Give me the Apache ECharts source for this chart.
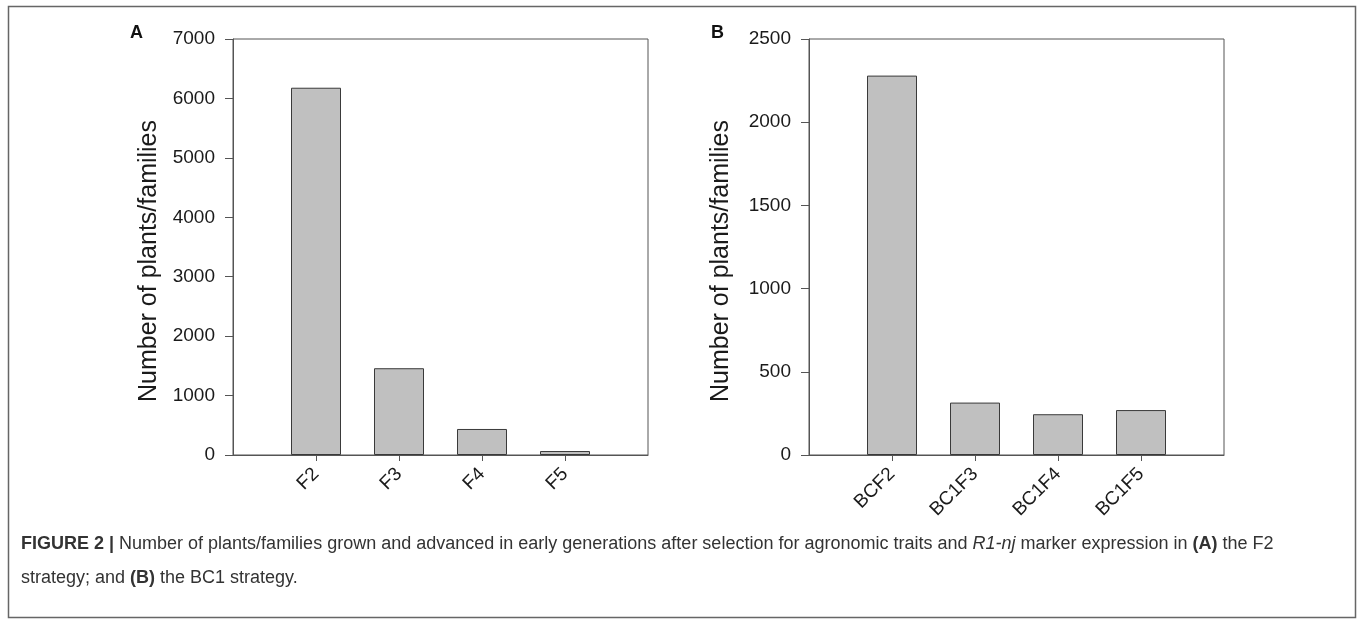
<!DOCTYPE html>
<html>
<head>
<meta charset="utf-8">
<script src="https://cdn.jsdelivr.net/npm/echarts@6.0.0/dist/echarts.min.js"></script>
<style>
  html, body { margin: 0; padding: 0; background: #fff; }
  #main { width: 1357px; height: 619px; }
</style>
</head>
<body>
<div id="main"></div>
<script>
var chart = echarts.init(document.getElementById('main'));

// panel A: F2 strategy
var catsA = ['F2', 'F3', 'F4', 'F5'];
var valsA = [6180, 1460, 438, 67];
var ticksA = [0, 1000, 2000, 3000, 4000, 5000, 6000, 7000];

// panel B: BC1 strategy
var catsB = ['BCF2', 'BC1F3', 'BC1F4', 'BC1F5'];
var valsB = [2280, 315, 245, 270];
var ticksB = [0, 500, 1000, 1500, 2000, 2500];

var yName = 'Number of plants/families';
var font = 'Liberation Sans, Arial, sans-serif';
var lineCol = '#555';
var txtCol = '#1a1a1a';

var toPairs = function (vals) {
    var res = [];
    for (var i = 0; i < vals.length; i++) {
        res.push([i, vals[i]]);
    }
    return res;
};

var xAxisFor = function (idx, cats) {
    return {
        type: 'value',
        gridIndex: idx,
        min: -1,
        max: 4,
        interval: 1,
        splitLine: { show: false },
        axisLine: { show: true, onZero: false, lineStyle: { color: lineCol, width: 1 } },
        axisTick: { show: true, length: 6, customValues: [0, 1, 2, 3], lineStyle: { color: lineCol } },
        axisLabel: {
            customValues: [0, 1, 2, 3],
            rotate: 45,
            margin: 16,
            fontSize: 19,
            fontFamily: font,
            color: txtCol,
            formatter: function (v) { return cats[v] || ''; }
        }
    };
};

var yAxisFor = function (idx, ticks, gap) {
    return {
        type: 'value',
        gridIndex: idx,
        min: ticks[0],
        max: ticks[ticks.length - 1],
        interval: ticks[1] - ticks[0],
        name: yName,
        nameLocation: 'middle',
        nameGap: gap,
        nameTextStyle: { fontSize: 25, fontFamily: font, color: txtCol, padding: [0, 28, 0, 0] },
        splitLine: { show: false },
        axisLine: { show: true, onZero: false, lineStyle: { color: lineCol, width: 1 } },
        axisTick: { show: true, length: 8, lineStyle: { color: lineCol } },
        axisLabel: {
            fontSize: 19,
            fontFamily: font,
            color: txtCol,
            margin: 18,
            formatter: function (v) { return String(v); }
        }
    };
};

var barStyle = {
    color: '#c0c0c0',
    borderColor: '#3a3a3a',
    borderWidth: 1
};

option = {
    animation: false,
    backgroundColor: '#fff',
    grid: [
        { left: 233, top: 39, width: 415, height: 416, show: true, borderColor: lineCol, borderWidth: 1, backgroundColor: 'transparent' },
        { left: 809, top: 39, width: 415, height: 416, show: true, borderColor: lineCol, borderWidth: 1, backgroundColor: 'transparent' }
    ],
    xAxis: [xAxisFor(0, catsA), xAxisFor(1, catsB)],
    yAxis: [yAxisFor(0, ticksA, 71), yAxisFor(1, ticksB, 75)],
    series: [
        {
            type: 'bar',
            xAxisIndex: 0,
            yAxisIndex: 0,
            barWidth: 50,
            data: toPairs(valsA),
            itemStyle: barStyle
        },
        {
            type: 'bar',
            xAxisIndex: 1,
            yAxisIndex: 1,
            barWidth: 50,
            data: toPairs(valsB),
            itemStyle: barStyle
        }
    ],
    graphic: [
        {
            type: 'rect',
            shape: { x: 8.5, y: 6.5, width: 1347, height: 611 },
            style: { fill: 'none', stroke: '#666', lineWidth: 1.5 },
            silent: true
        },
        {
            type: 'text', left: 130, top: 24,
            style: { text: 'A', font: 'bold 18px ' + font, fill: '#111' }
        },
        {
            type: 'text', left: 711, top: 24,
            style: { text: 'B', font: 'bold 18px ' + font, fill: '#111' }
        },
        {
            type: 'text', left: 21, top: 535,
            style: {
                text: '{b|FIGURE 2 |} Number of plants/families grown and advanced in early generations after selection for agronomic traits and {i|R1-nj} marker expression in {b|(A)} the F2',
                font: '18px ' + font,
                fill: '#333',
                rich: {
                    b: { font: 'bold 18px ' + font, fill: '#333' },
                    i: { font: 'italic 18px ' + font, fill: '#333' }
                }
            }
        },
        {
            type: 'text', left: 21, top: 569,
            style: {
                text: 'strategy; and {b|(B)} the BC1 strategy.',
                font: '18px ' + font,
                fill: '#333',
                rich: {
                    b: { font: 'bold 18px ' + font, fill: '#333' }
                }
            }
        }
    ]
};

chart.setOption(option);
</script>
</body>
</html>
